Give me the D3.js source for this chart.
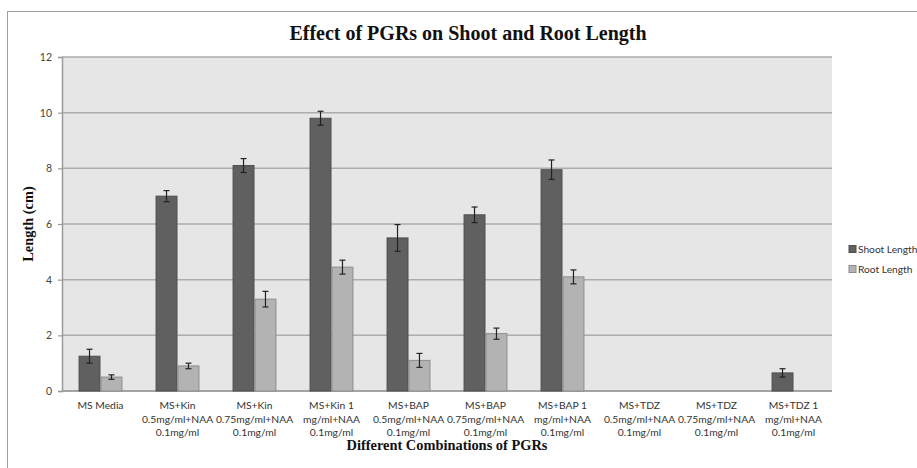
<!DOCTYPE html>
<html><head><meta charset="utf-8">
<script src="https://cdn.jsdelivr.net/npm/d3@7"></script>
<style>body{margin:0;background:#fff}svg{display:block}</style>
</head><body>
<svg id="c" width="917" height="468"></svg>
<script>
const categories = [
  ["MS Media"],
  ["MS+Kin","0.5mg/ml+NAA","0.1mg/ml"],
  ["MS+Kin","0.75mg/ml+NAA","0.1mg/ml"],
  ["MS+Kin 1","mg/ml+NAA","0.1mg/ml"],
  ["MS+BAP","0.5mg/ml+NAA","0.1mg/ml"],
  ["MS+BAP","0.75mg/ml+NAA","0.1mg/ml"],
  ["MS+BAP 1","mg/ml+NAA","0.1mg/ml"],
  ["MS+TDZ","0.5mg/ml+NAA","0.1mg/ml"],
  ["MS+TDZ","0.75mg/ml+NAA","0.1mg/ml"],
  ["MS+TDZ 1","mg/ml+NAA","0.1mg/ml"]
];
const seriesNames = ["Shoot Length","Root Length"];
const shootLength = [1.25, 7.0, 8.1, 9.8, 5.5, 6.33, 7.95, 0, 0, 0.65];
const shootError  = [0.25, 0.2, 0.25, 0.25, 0.48, 0.28, 0.35, 0, 0, 0.15];
const rootLength  = [0.5, 0.9, 3.3, 4.45, 1.1, 2.06, 4.1, 0, 0, 0];
const rootError   = [0.08, 0.1, 0.28, 0.25, 0.25, 0.2, 0.25, 0, 0, 0];
const yTicks = [0,2,4,6,8,10,12];

const svg = d3.select("#c");
const L=62, R=832, T=57, B=391;
const sans = "Lato, 'Open Sans', sans-serif";

svg.append("rect").attr("x",7.5).attr("y",11.5).attr("width",930).attr("height",480)
  .attr("fill","#fff").attr("stroke","#a0a0a0");

const x0 = d3.scaleBand().domain(d3.range(categories.length)).range([L,R]).paddingInner(0.43).paddingOuter(0.215);
const x1 = d3.scaleBand().domain([0,1]).range([0,x0.bandwidth()]);
const y = d3.scaleLinear().domain([0,12]).range([B,T]);

svg.append("rect").attr("x",L).attr("y",T).attr("width",R-L).attr("height",B-T).attr("fill","#e6e6e6");

// gridlines
svg.append("g").selectAll("line").data(yTicks).join("line")
  .attr("x1",L).attr("x2",R).attr("y1",d=>y(d)).attr("y2",d=>y(d))
  .attr("stroke","#acacac").attr("stroke-width",1.5);

// y axis
const ya = svg.append("g").attr("transform",`translate(${L},0)`)
  .call(d3.axisLeft(y).tickValues(yTicks).tickSize(4).tickPadding(6));
ya.select(".domain").attr("stroke","#9a9a9a").attr("stroke-width",1.5);
ya.selectAll(".tick line").attr("stroke","#9a9a9a").attr("stroke-width",1.2);
ya.selectAll("text").attr("font-family",sans).attr("font-size",10.5).attr("fill","#444");

// x axis line
svg.append("line").attr("x1",L).attr("x2",R).attr("y1",B).attr("y2",B).attr("stroke","#9a9a9a").attr("stroke-width",1.5);

const series = [
  {vals:shootLength, err:shootError, fill:"#606060", stroke:"#4e4e4e"},
  {vals:rootLength, err:rootError, fill:"#b3b3b3", stroke:"#8c8c8c"}
];
series.forEach((s,si)=>{
  const g = svg.append("g");
  const data = s.vals.map((v,i)=>({i,v,e:s.err[i]})).filter(d=>d.v>0);
  g.selectAll("rect").data(data).join("rect")
    .attr("x",d=>x0(d.i)+x1(si)+0.5).attr("width",x1.bandwidth()-1)
    .attr("y",d=>y(d.v)).attr("height",d=>y(0)-y(d.v))
    .attr("fill",s.fill).attr("stroke",s.stroke).attr("stroke-width",1);
  const eb = g.selectAll("g.eb").data(data.filter(d=>d.e>0)).join("g").attr("class","eb");
  const cx = d=>x0(d.i)+x1(si)+x1.bandwidth()/2;
  eb.append("line").attr("x1",cx).attr("x2",cx).attr("y1",d=>y(d.v+d.e)).attr("y2",d=>y(d.v-d.e)).attr("stroke","#222").attr("stroke-width",1.2);
  eb.append("line").attr("x1",d=>cx(d)-3).attr("x2",d=>cx(d)+3).attr("y1",d=>y(d.v+d.e)).attr("y2",d=>y(d.v+d.e)).attr("stroke","#222").attr("stroke-width",1.2);
  eb.append("line").attr("x1",d=>cx(d)-3).attr("x2",d=>cx(d)+3).attr("y1",d=>y(d.v-d.e)).attr("y2",d=>y(d.v-d.e)).attr("stroke","#222").attr("stroke-width",1.2);
});

// category labels
const cl = svg.append("g").selectAll("text").data(categories).join("text")
  .attr("x",(d,i)=>x0(i)+x0.bandwidth()/2).attr("y",409)
  .attr("text-anchor","middle").attr("font-family",sans).attr("font-size",10.3).attr("fill","#333");
cl.each(function(d){
  const t=d3.select(this);
  d.forEach((line,k)=>t.append("tspan").attr("x",t.attr("x")).attr("dy",k?13.5:0).text(line));
});

// titles
svg.append("text").attr("x",468).attr("y",40).attr("text-anchor","middle")
  .attr("font-family","Liberation Serif, serif").attr("font-weight","bold").attr("font-size",20).attr("fill","#111")
  .text("Effect of PGRs on Shoot and Root Length");
svg.append("text").attr("x",447).attr("y",450).attr("text-anchor","middle")
  .attr("font-family","Liberation Serif, serif").attr("font-weight","bold").attr("font-size",14.4).attr("fill","#111")
  .text("Different Combinations of PGRs");
svg.append("text").attr("transform",`translate(33,${(T+B)/2}) rotate(-90)`).attr("text-anchor","middle")
  .attr("font-family","Liberation Serif, serif").attr("font-weight","bold").attr("font-size",14.4).attr("fill","#111")
  .text("Length (cm)");

// legend
const lg = svg.append("g").selectAll("g").data(seriesNames).join("g")
  .attr("transform",(d,i)=>`translate(849,${249+i*20})`);
lg.append("rect").attr("x",0).attr("y",-3.5).attr("width",7).attr("height",7)
  .attr("fill",(d,i)=>series[i].fill).attr("stroke",(d,i)=>series[i].stroke);
lg.append("text").attr("x",9).attr("y",0).attr("dy","0.35em")
  .attr("font-family",sans).attr("font-size",10.2).attr("fill","#333").text(d=>d);
</script>
</body></html>
